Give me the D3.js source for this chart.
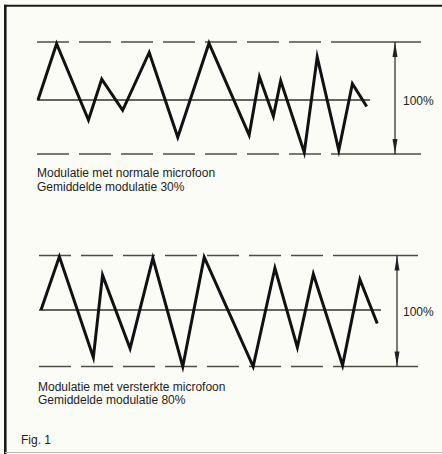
<!DOCTYPE html>
<html>
<head>
<meta charset="utf-8">
<script src="https://cdn.jsdelivr.net/npm/d3@7"></script>
<style>
  html, body { margin: 0; padding: 0; background: #fcfcf7; }
  svg { display: block; }
  text { font-family: "Liberation Sans", Arial, sans-serif; font-size: 12px; fill: #222; }
</style>
</head>
<body>
<div id="fig"></div>
<script>
// modulation, normal microphone (time in arbitrary units, level -1..1 = full modulation)
const normalTime = [0, 5.6, 15.2, 19.2, 25.5, 33.5, 42.1, 51.5, 63.6, 66.7, 70.9, 73.1, 80.2, 84.1, 90.6, 94.7, 99.0];
const normalLevel = [0, 0.97, -0.37, 0.36, -0.19, 0.82, -0.69, 0.98, -0.65, 0.40, -0.30, 0.33, -0.97, 0.74, -0.93, 0.28, -0.12];

// modulation, amplified microphone
const boostedTime = [0, 5.4, 15.4, 18.1, 26.2, 32.9, 41.7, 48.0, 62.4, 68.8, 75.4, 80.1, 88.7, 93.8, 98.9];
const boostedLevel = [0, 0.98, -0.84, 0.64, -0.68, 0.95, -1.0, 0.97, -1.0, 0.77, -0.66, 0.66, -0.98, 0.56, -0.24];

const normalCaption = ['Modulatie met normale microfoon', 'Gemiddelde modulatie 30%'];
const boostedCaption = ['Modulatie met versterkte microfoon', 'Gemiddelde modulatie 80%'];
const rangeLabel = '100%';
const figLabel = 'Fig. 1';

const width = 442;
const height = 454;

const svg = d3.select('#fig').append('svg')
  .attr('width', width)
  .attr('height', height);

// frame (left + top strong, bottom faint as in the scan)
svg.append('line')
  .attr('x1', 5.3).attr('y1', 4.7).attr('x2', 5.3).attr('y2', height)
  .attr('stroke', '#1a1a1a').attr('stroke-width', 2.6);
svg.append('line')
  .attr('x1', 4).attr('y1', 5.7).attr('x2', width).attr('y2', 5.7)
  .attr('stroke', '#1a1a1a').attr('stroke-width', 2);
svg.append('line')
  .attr('x1', 5).attr('y1', 452.5).attr('x2', width).attr('y2', 452.5)
  .attr('stroke', '#bbb').attr('stroke-width', 1);

function drawPanel(times, levels, caption, layout) {
  const g = svg.append('g');

  const x = d3.scaleLinear().domain([0, 100]).range([layout.x0, layout.x1]);
  const y = d3.scaleLinear().domain([-1, 0, 1]).range([layout.bottom, layout.center, layout.top]);

  // 100% limits: dashed, solid near the arrow
  [1, -1].forEach((lvl) => {
    g.append('line')
      .attr('x1', layout.lineStart).attr('x2', layout.solidFrom)
      .attr('y1', y(lvl)).attr('y2', y(lvl))
      .attr('stroke', '#4d4d42')
      .attr('stroke-width', 1.5)
      .attr('stroke-dasharray', '32 10');
    g.append('line')
      .attr('x1', layout.solidFrom).attr('x2', layout.lineEnd)
      .attr('y1', y(lvl)).attr('y2', y(lvl))
      .attr('stroke', '#4d4d42')
      .attr('stroke-width', 1.5);
  });

  // zero line
  g.append('line')
    .attr('x1', layout.lineStart).attr('x2', x(100))
    .attr('y1', y(0)).attr('y2', y(0))
    .attr('stroke', '#333')
    .attr('stroke-width', 1.3);

  // double arrow
  const ax = layout.arrowX;
  g.append('line')
    .attr('x1', ax).attr('x2', ax)
    .attr('y1', y(1)).attr('y2', y(-1))
    .attr('stroke', '#222')
    .attr('stroke-width', 1.2);
  g.append('path')
    .attr('d', `M${ax},${y(1)} L${ax - 2.5},${y(1) + 15} L${ax + 2.5},${y(1) + 15} Z`)
    .attr('fill', '#222');
  g.append('path')
    .attr('d', `M${ax},${y(-1)} L${ax - 2.5},${y(-1) - 15} L${ax + 2.5},${y(-1) - 15} Z`)
    .attr('fill', '#222');

  g.append('text')
    .attr('x', layout.labelX)
    .attr('y', layout.labelY)
    .text(rangeLabel);

  // waveform
  const pts = times.map((t, i) => [t, levels[i]]);
  const line = d3.line().x((d) => x(d[0])).y((d) => y(d[1]));
  g.append('path')
    .datum(pts)
    .attr('d', line)
    .attr('fill', 'none')
    .attr('stroke', '#111')
    .attr('stroke-width', 3)
    .attr('stroke-linejoin', 'miter')
    .attr('stroke-miterlimit', 6);

  g.selectAll('.caption')
    .data(caption)
    .join('text')
    .attr('class', 'caption')
    .attr('x', layout.captionX)
    .attr('y', (d, i) => layout.captionY + i * 13.6)
    .text((d) => d);
}

drawPanel(normalTime, normalLevel, normalCaption, {
  x0: 38, x1: 370, top: 42, center: 100, bottom: 154,
  lineStart: 37, lineEnd: 421, solidFrom: 352, arrowX: 395,
  labelX: 403, labelY: 105, captionX: 37, captionY: 177,
});

drawPanel(boostedTime, boostedLevel, boostedCaption, {
  x0: 41, x1: 381, top: 255.5, center: 310, bottom: 366.5,
  lineStart: 39, lineEnd: 418, solidFrom: 343, arrowX: 397,
  labelX: 403, labelY: 316, captionX: 38, captionY: 390.5,
});

svg.append('text')
  .attr('x', 21)
  .attr('y', 443.5)
  .text(figLabel);
</script>
</body>
</html>
